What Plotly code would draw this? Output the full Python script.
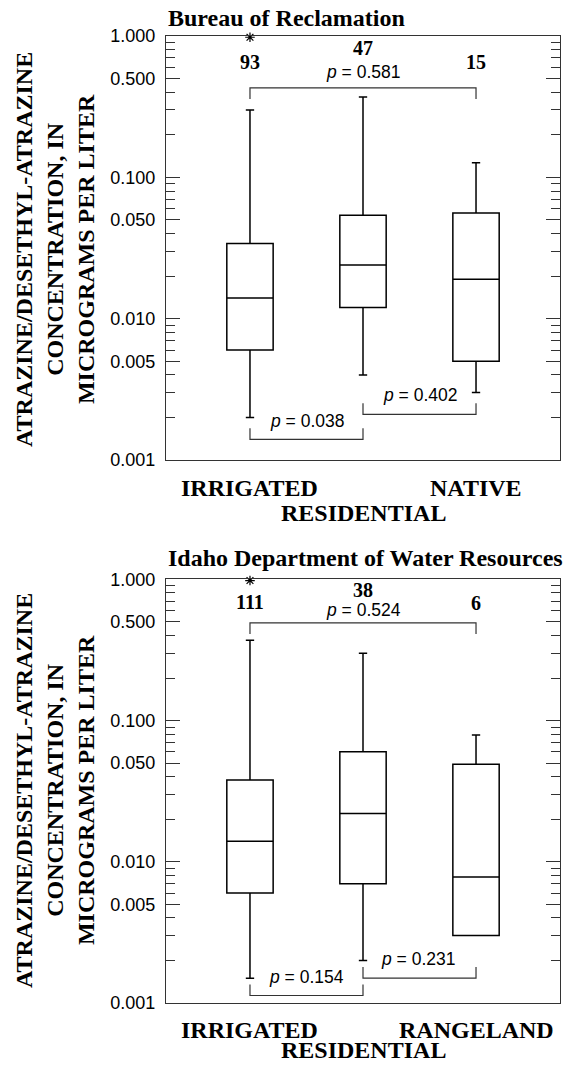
import plotly.graph_objects as go

# ---------------- data ----------------
positions = [1, 2, 3]
cats_top = ["IRRIGATED", "RESIDENTIAL", "NATIVE"]
cats_bot = ["IRRIGATED", "RESIDENTIAL", "RANGELAND"]

# Bureau of Reclamation
bor_lower = [0.002, 0.004, 0.003]
bor_q1 = [0.006, 0.012, 0.005]
bor_med = [0.014, 0.024, 0.019]
bor_q3 = [0.034, 0.054, 0.056]
bor_upper = [0.30, 0.37, 0.127]
bor_n = [93, 47, 15]
bor_outlier_x = [1]
bor_outlier_y = [0.98]

# Idaho Department of Water Resources
idw_lower = [0.0015, 0.002, 0.003]
idw_q1 = [0.006, 0.007, 0.003]
idw_med = [0.014, 0.022, 0.0078]
idw_q3 = [0.038, 0.060, 0.049]
idw_upper = [0.37, 0.30, 0.079]
idw_n = [111, 38, 6]
idw_outlier_x = [1]
idw_outlier_y = [0.98]

# p-values: (pair, value) ; brackets levels (bar, end)
bor_p = [((1, 3), 0.581), ((1, 2), 0.038), ((2, 3), 0.402)]
bor_brk = [(0.43, 0.358), (0.0014, 0.00168), (0.0021, 0.00252)]
idw_p = [((1, 3), 0.524), ((1, 2), 0.154), ((2, 3), 0.231)]
idw_brk = [(0.492, 0.41), (0.00113, 0.00135), (0.0015, 0.0018)]

ytick_vals = [1, 0.5, 0.1, 0.05, 0.01, 0.005, 0.001]
ytick_text = ["1.000", "0.500", "0.100", "0.050", "0.010", "0.005", "0.001"]

# ---------------- layout geometry ----------------
W, H = 565, 1065
ML, MR, MT, MB = 166, 5, 36, 62
PW = W - ML - MR
PH = H - MT - MB


def ppx(x):
    return (x - ML) / PW


def ppy(y):
    return (H - MB - y) / PH


SERIF = "Liberation Serif, Times New Roman, serif"
SANS = "Liberation Sans, Arial, sans-serif"
AXC = "#333333"

minor_vals = [m * d for d in (0.001, 0.01, 0.1) for m in (2, 3, 4, 6, 7, 8, 9)]

fig = go.Figure()

panels = [
    dict(x="x", y="y", lo=bor_lower, q1=bor_q1, med=bor_med, q3=bor_q3, up=bor_upper,
         ox=bor_outlier_x, oy=bor_outlier_y, n=bor_n, p=bor_p, brk=bor_brk, cats=cats_top),
    dict(x="x2", y="y2", lo=idw_lower, q1=idw_q1, med=idw_med, q3=idw_q3, up=idw_upper,
         ox=idw_outlier_x, oy=idw_outlier_y, n=idw_n, p=idw_p, brk=idw_brk, cats=cats_bot),
]

for pn in panels:
    fig.add_trace(go.Box(
        x=positions, lowerfence=pn["lo"], q1=pn["q1"], median=pn["med"], q3=pn["q3"],
        upperfence=pn["up"], boxpoints=False, width=0.41, whiskerwidth=0.18,
        line=dict(color="black", width=1.5), fillcolor="white",
        xaxis=pn["x"], yaxis=pn["y"], showlegend=False, hoverinfo="skip"))
    fig.add_trace(go.Scatter(
        x=pn["ox"], y=pn["oy"], mode="markers", cliponaxis=False,
        marker=dict(symbol="asterisk-open", size=8, color="black",
                    line=dict(color="black", width=1.2)),
        xaxis=pn["x"], yaxis=pn["y"], showlegend=False, hoverinfo="skip"))
    for (pair, pv), (bar, end) in zip(pn["p"], pn["brk"]):
        a, b = pair
        fig.add_trace(go.Scatter(
            x=[a, a, b, b], y=[end, bar, bar, end], mode="lines",
            line=dict(color=AXC, width=1.2), cliponaxis=False,
            xaxis=pn["x"], yaxis=pn["y"], showlegend=False, hoverinfo="skip"))

yaxis_common = dict(
    type="log", range=[-3, 0], tickmode="array", tickvals=ytick_vals, ticktext=ytick_text,
    ticks="inside", ticklen=14, tickwidth=1.3, tickcolor=AXC,
    minor=dict(tickmode="array", tickvals=minor_vals, ticks="inside", ticklen=9,
               tickwidth=1.3, tickcolor=AXC, showgrid=False),
    showline=True, linecolor=AXC, linewidth=1.3, mirror="ticks", showgrid=False,
    zeroline=False, tickfont=dict(family=SANS, size=18, color="black"),
    ticklabelstandoff=6, automargin=False,
)
xaxis_common = dict(
    range=[0.257, 3.743], showline=True, linecolor=AXC, linewidth=1.3, mirror=True,
    ticks="", showgrid=False, zeroline=False, tickmode="array", tickvals=positions,
    showticklabels=False, automargin=False,
)

top_dom = [ppy(460), 1]
bot_dom = [0, ppy(579.3)]

fig.update_layout(
    width=W, height=H, margin=dict(l=ML, r=MR, t=MT, b=MB),
    paper_bgcolor="white", plot_bgcolor="white",
    xaxis=dict(xaxis_common, anchor="y"),
    yaxis=dict(yaxis_common, domain=top_dom, anchor="x"),
    xaxis2=dict(xaxis_common, anchor="y2"),
    yaxis2=dict(yaxis_common, domain=bot_dom, anchor="x2"),
)

ann = []
# titles
ann.append(dict(text="<b>Bureau of Reclamation</b>", x=0, xref="paper", xanchor="left",
                y=ppy(18), yref="paper", yanchor="middle", showarrow=False,
                font=dict(family=SERIF, size=24, color="black")))
ann.append(dict(text="<b>Idaho Department of Water Resources</b>", x=0, xref="paper", xanchor="left",
                y=ppy(558), yref="paper", yanchor="middle", showarrow=False,
                font=dict(family=SERIF, size=24, color="black")))
ytitle = "<b>ATRAZINE/DESETHYL-ATRAZINE<br>CONCENTRATION, IN<br>MICROGRAMS PER LITER</b>"
for cy in (250, 791):
    ann.append(dict(text=ytitle, textangle=-90, x=ppx(55), xref="paper", xanchor="center",
                    y=ppy(cy), yref="paper", yanchor="middle", showarrow=False,
                    font=dict(family=SERIF, size=24, color="black")))

# category labels (staggered)
cat_y_top = [488, 513, 488]
cat_y_bot = [1030, 1050, 1030]
for pn, cys in ((panels[0], cat_y_top), (panels[1], cat_y_bot)):
    for xi, c, cy in zip(positions, pn["cats"], cys):
        ann.append(dict(text="<b>%s</b>" % c, x=xi, xref=pn["x"], xanchor="center",
                        y=ppy(cy), yref="paper", yanchor="middle", showarrow=False,
                        borderpad=0, font=dict(family=SERIF, size=24, color="black")))

# counts
count_y_top = [62, 48, 62]
count_y_bot = [601.7, 590, 603.3]
for pn, cys in ((panels[0], count_y_top), (panels[1], count_y_bot)):
    for xi, n, cy in zip(positions, pn["n"], cys):
        ann.append(dict(text="<b>%d</b>" % n, x=xi, xref=pn["x"], xanchor="center",
                        y=ppy(cy), yref="paper", yanchor="middle", showarrow=False,
                        font=dict(family=SERIF, size=20, color="black")))

# p-value labels
p_pos_top = [(363, 72), (306.7, 420.7), (420, 395)]
p_pos_bot = [(363, 610), (306.7, 976.7), (418, 959.3)]
for pn, pos in ((panels[0], p_pos_top), (panels[1], p_pos_bot)):
    for (pair, pv), (px_, py_) in zip(pn["p"], pos):
        ann.append(dict(text="<i>p</i> = %.3f" % pv, x=ppx(px_), xref="paper", xanchor="center",
                        y=ppy(py_), yref="paper", yanchor="middle", showarrow=False,
                        font=dict(family=SANS, size=17.5, color="black")))

fig.update_layout(annotations=ann)
fig.write_html("out.html")
